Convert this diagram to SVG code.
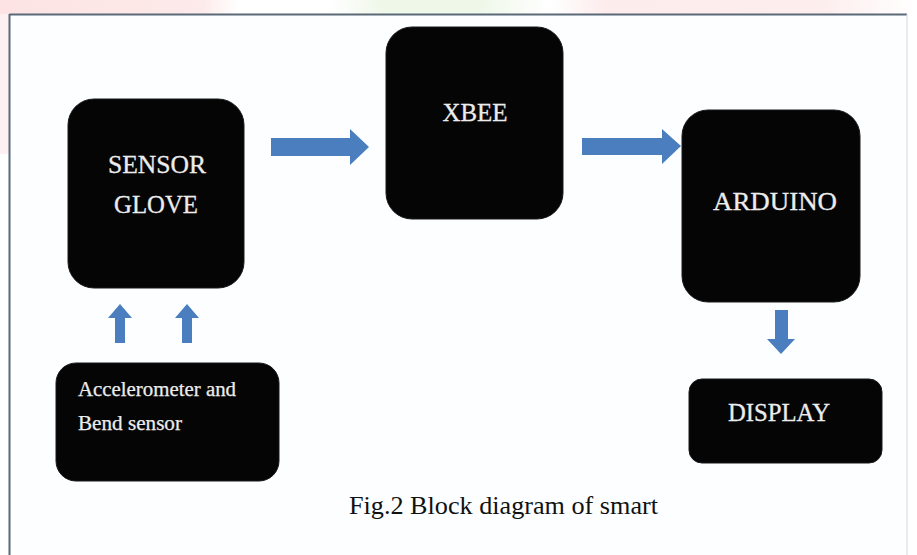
<svg xmlns="http://www.w3.org/2000/svg" width="917" height="555" viewBox="0 0 917 555">
<defs>
<style>
.box{fill:#050505;stroke:#1a1a1a;stroke-width:1}
.lbl{font-family:"Liberation Serif","Times New Roman",serif;fill:#ececec;stroke:#ececec;stroke-width:0.3;font-size:25px;text-anchor:middle}
.lbl2{font-family:"Liberation Serif","Times New Roman",serif;fill:#ececec;stroke:#ececec;stroke-width:0.25;font-size:20px}
.arrow{fill:#4a7ebf}
.cap{font-family:"Liberation Serif","Times New Roman",serif;fill:#111;font-size:26px}
</style>
<linearGradient id="wm" x1="0" y1="0" x2="1" y2="0">
<stop offset="0" stop-color="#fde3e3"/>
<stop offset="0.22" stop-color="#fdeaea"/>
<stop offset="0.26" stop-color="#ffffff"/>
<stop offset="0.36" stop-color="#ffffff"/>
<stop offset="0.42" stop-color="#eef7e8"/>
<stop offset="0.52" stop-color="#eef7e8"/>
<stop offset="0.6" stop-color="#ffffff"/>
<stop offset="0.66" stop-color="#fdecec"/>
<stop offset="0.9" stop-color="#fdeeee"/>
<stop offset="1" stop-color="#ffffff"/>
</linearGradient>
</defs>
<rect x="0" y="0" width="917" height="555" fill="#ffffff"/>
<rect x="0" y="0" width="917" height="14" fill="url(#wm)"/>
<rect x="0" y="14" width="9" height="140" fill="#fdeaea" opacity="0.7"/>
<rect x="9.5" y="14.5" width="897" height="560" fill="#fcfeff" stroke="none"/>
<line x1="9.5" y1="14.5" x2="907" y2="14.5" stroke="#5a6878" stroke-width="2"/>
<line x1="9.5" y1="14" x2="9.5" y2="555" stroke="#5a6878" stroke-width="2"/>
<line x1="907" y1="14" x2="907" y2="555" stroke="#d4dae0" stroke-width="1"/>

<g id="sensor-glove">
<rect class="box" x="68" y="99" width="176" height="189" rx="26" ry="26"/>
<text class="lbl" x="157" y="173" textLength="98" lengthAdjust="spacingAndGlyphs">SENSOR</text>
<text class="lbl" x="156" y="213" textLength="84" lengthAdjust="spacingAndGlyphs">GLOVE</text>
</g>
<g id="xbee">
<rect class="box" x="386" y="27" width="177" height="192" rx="26" ry="26"/>
<text class="lbl" x="475" y="121" textLength="65" lengthAdjust="spacingAndGlyphs">XBEE</text>
</g>
<g id="arduino">
<rect class="box" x="682" y="110" width="178" height="192" rx="26" ry="26"/>
<text class="lbl" x="775" y="210" textLength="124" lengthAdjust="spacingAndGlyphs">ARDUINO</text>
</g>
<g id="display">
<rect class="box" x="689" y="379" width="193" height="84" rx="13" ry="13"/>
<text class="lbl" x="779" y="421" font-size="24" textLength="102" lengthAdjust="spacingAndGlyphs">DISPLAY</text>
</g>
<g id="accelerometer">
<rect class="box" x="56" y="363" width="223" height="118" rx="20" ry="20"/>
<text class="lbl2" x="78" y="396" textLength="158" lengthAdjust="spacingAndGlyphs">Accelerometer and</text>
<text class="lbl2" x="78" y="430" textLength="104" lengthAdjust="spacingAndGlyphs">Bend sensor</text>
</g>

<g id="connectors">
<polygon class="arrow" points="271,138 350,138 350,129 369,147 350,165 350,156 271,156"/>
<polygon class="arrow" points="582,138 662,138 662,129 681,146 662,164 662,155 582,155"/>
<polygon class="arrow" points="115,343 115,318 108,318 120,304 132,318 125,318 125,343"/>
<polygon class="arrow" points="182,343 182,318 175,318 187,304 199,318 192,318 192,343"/>
<polygon class="arrow" points="775,310 788,310 788,339 795,339 781,354 767,339 775,339"/>
</g>

<text class="cap" x="349" y="514" textLength="309" lengthAdjust="spacingAndGlyphs">Fig.2 Block diagram of smart</text>
</svg>
